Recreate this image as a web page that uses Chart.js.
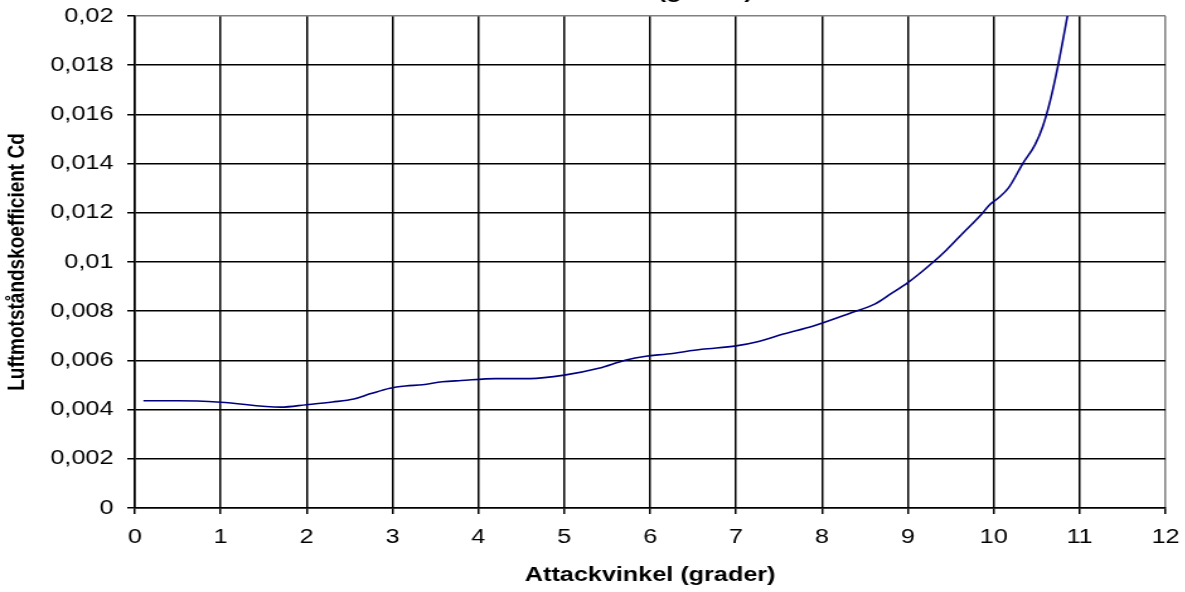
<!DOCTYPE html>
<html>
<head>
<meta charset="utf-8">
<title>Cd mot attackvinkel</title>
<script src="https://cdn.jsdelivr.net/npm/chart.js@4.4.1/dist/chart.umd.min.js"></script>
<style>
  html, body { margin: 0; padding: 0; background: #fff; overflow: hidden; }
  #wrap { position: relative; width: 1185px; height: 592px; overflow: hidden; }
  /* chart is drawn narrow and stretched sideways, as in the printed original */
  #cdChart { position: absolute; left: 0; top: -20px; transform: scaleX(1.26); transform-origin: 0 0; }
</style>
</head>
<body>
<div id="wrap">
  <canvas id="cdChart" width="940" height="612"></canvas>
</div>
<script>
// Angle of attack (degrees) and measured drag coefficient
const angles = [0.1, 0.5, 1.0, 1.7, 2.0, 2.3, 2.55, 2.75, 2.97, 3.15, 3.35, 3.58, 3.8,
                4.2, 4.6, 5.0, 5.4, 5.72, 5.95, 6.2, 6.6, 7.0, 7.25, 7.55, 7.9, 8.32,
                8.62, 8.8, 9.0, 9.3, 9.45, 9.64, 9.85, 9.95, 10.05, 10.17, 10.34,
                10.48, 10.57, 10.66, 10.75, 10.86, 10.95];
const cdValues = [0.00436, 0.00436, 0.0043, 0.0041, 0.0042, 0.00431, 0.00443, 0.00465,
                  0.00487, 0.00496, 0.00501, 0.00513, 0.00518, 0.00526, 0.00526, 0.0054,
                  0.00568, 0.00602, 0.00617, 0.00626, 0.00645, 0.00659, 0.00676, 0.00707,
                  0.0074, 0.00791, 0.0083, 0.0087, 0.00916, 0.01001, 0.01049, 0.01117,
                  0.01191, 0.01232, 0.01259, 0.0130, 0.01401, 0.01476, 0.0155, 0.01659,
                  0.01801, 0.02004, 0.0218];

const xTicks = { min: 0, max: 12, step: 1 };
const yTicks = { min: 0, max: 0.02, step: 0.002 };

const chartTitle = 'Cd mot attackvinkel (grader)';
const xTitle = 'Attackvinkel (grader)';
const yTitle = 'Luftmotståndskoefficient Cd';

Chart.defaults.font.family = "'Liberation Sans', Arial, sans-serif";
Chart.defaults.color = '#000';

const points = angles.map((a, i) => ({ x: a, y: cdValues[i] }));

// outer frame lines (top and right) are grey, the rest black
function gridColor(max) {
    return ctx => (ctx.tick && Math.abs(ctx.tick.value - max) < 1e-9) ? '#808080' : '#000';
}

function commaFormat(value) {
    return String(Number(value.toFixed(3))).replace('.', ',');
}

new Chart(document.getElementById('cdChart'), {
    type: 'line',
    data: {
        datasets: [{
            data: points,
            borderColor: '#000080',
            borderWidth: 1.6,
            pointRadius: 0,
            fill: false,
            cubicInterpolationMode: 'monotone',
            clip: 0
        }]
    },
    options: {
        responsive: false,
        devicePixelRatio: 1,
        animation: false,
        layout: { padding: { left: 0, right: 15, top: 0, bottom: 0 } },
        plugins: {
            legend: { display: false },
            tooltip: { enabled: false },
            title: {
                display: true,
                text: chartTitle,
                font: { size: 20, weight: 'bold' },
                padding: { top: 0, bottom: 12 }
            }
        },
        scales: {
            x: {
                type: 'linear',
                min: xTicks.min,
                max: xTicks.max,
                ticks: {
                    stepSize: xTicks.step,
                    font: { size: 20 },
                    padding: 11,
                    maxRotation: 0
                },
                grid: {
                    color: gridColor(xTicks.max),
                    tickColor: '#000',
                    tickLength: 6,
                    lineWidth: 1.5
                },
                border: { color: '#000', width: 1.5 },
                title: {
                    display: true,
                    text: xTitle,
                    font: { size: 20, weight: 'bold' },
                    padding: { top: 4, bottom: 5 }
                },
                afterFit: scale => {
                    scale.height = 84;
                    scale.paddingLeft = 0;
                    scale.paddingRight = 0;
                }
            },
            y: {
                min: yTicks.min,
                max: yTicks.max,
                ticks: {
                    stepSize: yTicks.step,
                    font: { size: 20 },
                    padding: 11,
                    callback: v => commaFormat(v)
                },
                grid: {
                    color: gridColor(yTicks.max),
                    tickColor: '#000',
                    tickLength: 6,
                    lineWidth: 1.5
                },
                border: { color: '#000', width: 1.5 },
                title: {
                    display: true,
                    text: yTitle,
                    font: { size: 19, weight: 'bold' },
                    padding: { top: 2, bottom: 4 }
                },
                afterFit: scale => { scale.width = 107; }
            }
        }
    }
});
</script>
</body>
</html>
